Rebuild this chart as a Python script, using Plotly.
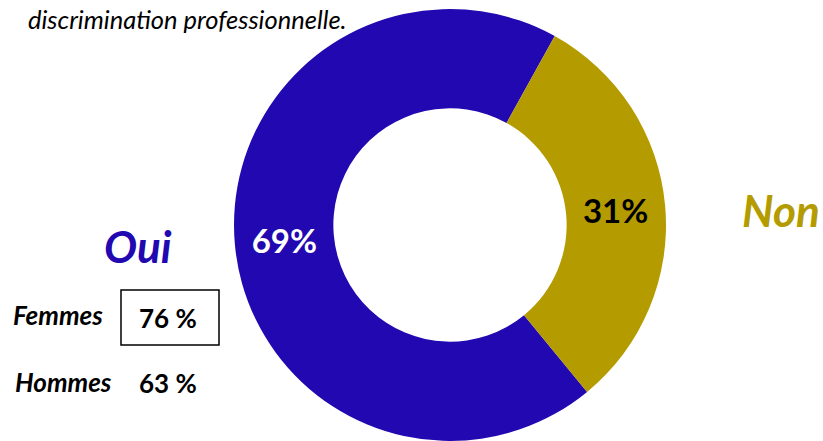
import plotly.graph_objects as go

labels = ["Oui", "Non"]
values = [69, 31]
slice_colors = ["#2108B0", "#B39B00"]
text_colors = ["white", "black"]
sub_labels = ["Femmes", "Hommes"]
sub_values = ["76 %", "63 %"]
title_line = "discrimination professionnelle."

W, H = 823, 441
FONT = "Lato"

fig = go.Figure(go.Pie(
    labels=labels, values=values, sort=False, direction="clockwise",
    rotation=140.6, hole=0.54,
    marker=dict(colors=slice_colors, line=dict(width=0)),
    texttemplate="%{value}%", textposition="inside",
    insidetextorientation="horizontal",
    textfont=dict(family=FONT, size=33, color=text_colors, weight="bold"),
    domain=dict(x=[234 / W, 666 / W], y=[0, 432 / H]),
    showlegend=False, hoverinfo="label+percent",
))

def px(x, y):
    return x / W, 1 - y / H

ann = []
def add(text, x, y, size, color="black", italic=False, bold=True, xanchor="center"):
    xx, yy = px(x, y)
    ann.append(dict(text=text, x=xx, y=yy, xref="paper", yref="paper", showarrow=False,
                    xanchor=xanchor, yanchor="middle",
                    font=dict(family=FONT, size=size, color=color,
                              style="italic" if italic else "normal",
                              weight="bold" if bold else "normal")))

add(title_line, 26, 19, 25.5, italic=True, bold=False, xanchor="left")
add(labels[0], 138, 246, 44, color=slice_colors[0], italic=True)
add(labels[1], 781, 210, 44, color=slice_colors[1], italic=True)
add(sub_labels[0], 58, 315, 26, italic=True)
add(sub_labels[1], 64, 382, 26, italic=True)
add(sub_values[0], 168, 318, 26)
add(sub_values[1], 168, 383, 26)

x0, y0 = px(121, 290)
x1, y1 = px(219, 345)
fig.update_layout(
    width=W, height=H, margin=dict(l=0, r=0, t=0, b=0),
    paper_bgcolor="white", plot_bgcolor="white",
    annotations=ann,
    shapes=[dict(type="rect", xref="paper", yref="paper", x0=x0, x1=x1, y0=y1, y1=y0,
                 line=dict(color="black", width=1.5))],
)
fig.write_html("out.html", config={"displayModeBar": False},
               post_script="document.body.style.margin='0';")
